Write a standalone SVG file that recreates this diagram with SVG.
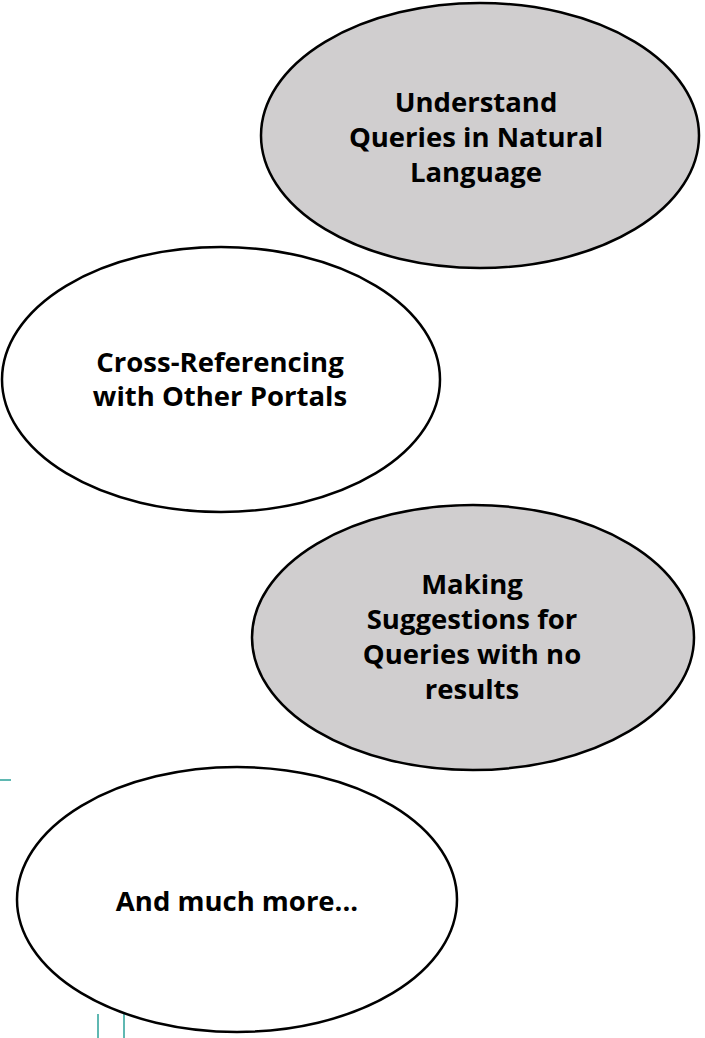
<svg xmlns="http://www.w3.org/2000/svg" width="705" height="1038" viewBox="0 0 705 1038">
<style>
.n{stroke:#000;stroke-width:2.5}
.g{fill:#d0cecf}
.w{fill:#fff}
.t{font-family:"Open Sans","Noto Sans","Liberation Sans",sans-serif;font-weight:bold;font-size:27.5px;fill:#000;text-anchor:middle}
.d{stroke:#2aa198;stroke-width:1.5;fill:none}
</style>
<rect width="705" height="1038" fill="#fff"/>
<g id="deco">
<line class="d" x1="0" y1="780" x2="11" y2="780"/>
<line class="d" x1="98" y1="1014" x2="98" y2="1038"/>
<line class="d" x1="124" y1="1014" x2="124" y2="1038"/>
</g>
<g id="connectors"></g>
<g id="node1">
<ellipse class="n g" cx="480" cy="135.5" rx="219" ry="132.5"/>
<text class="t" x="476" y="112">Understand</text>
<text class="t" x="476" y="147">Queries in Natural</text>
<text class="t" x="476" y="182">Language</text>
</g>
<g id="node2">
<ellipse class="n w" cx="221" cy="379.5" rx="219" ry="132.5"/>
<text class="t" x="220" y="372">Cross-Referencing</text>
<text class="t" x="220" y="406">with Other Portals</text>
</g>
<g id="node3">
<ellipse class="n g" cx="473" cy="637.5" rx="221" ry="132.5"/>
<text class="t" x="472" y="594">Making</text>
<text class="t" x="472" y="629">Suggestions for</text>
<text class="t" x="472" y="664">Queries with no</text>
<text class="t" x="472" y="699">results</text>
</g>
<g id="node4">
<ellipse class="n w" cx="237" cy="899.5" rx="220" ry="132.5"/>
<text class="t" x="237" y="911">And much more...</text>
</g>
</svg>
